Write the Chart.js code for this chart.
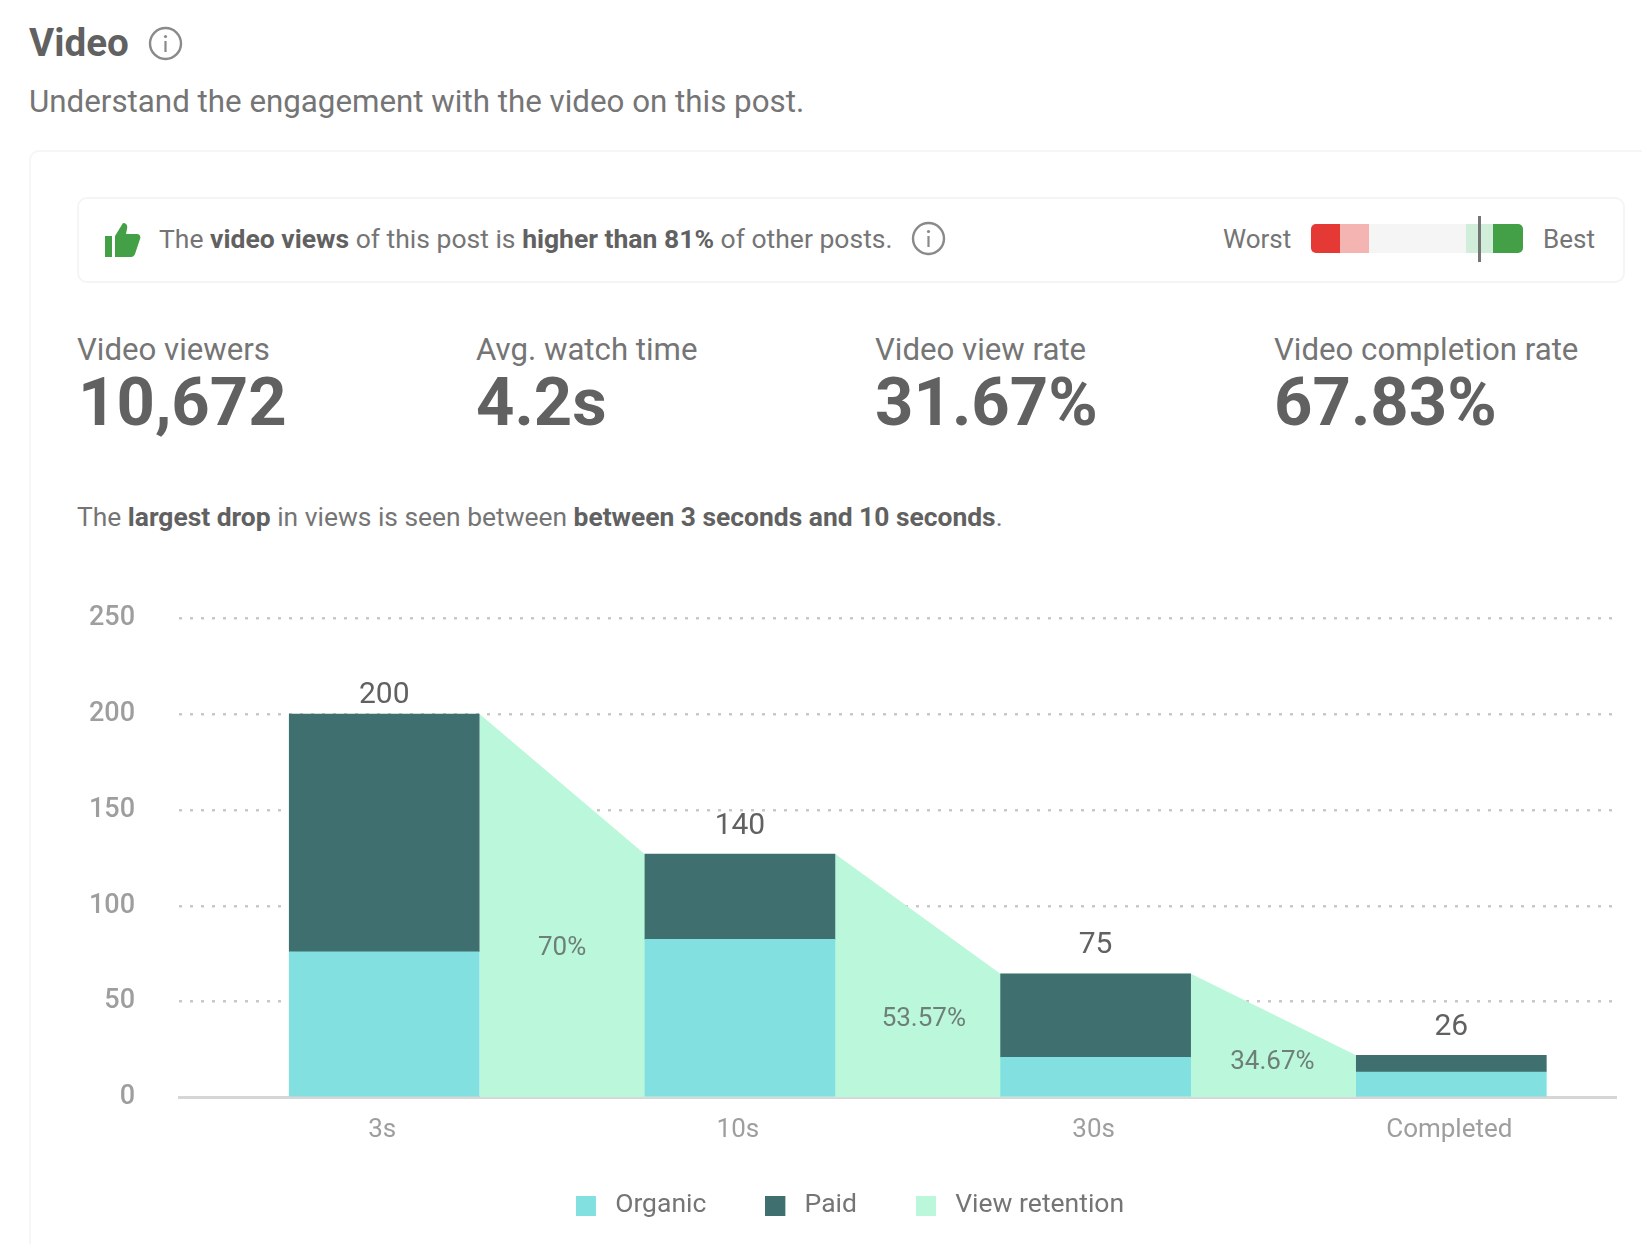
<!DOCTYPE html>
<html>
<head>
<meta charset="utf-8">
<title>Video</title>
<script src="https://cdn.jsdelivr.net/npm/chart.js@4"></script>
<style>
  html, body { margin: 0; padding: 0; width: 1642px; height: 1244px; overflow: hidden; background: #fff; }
  body { font-family: Roboto, sans-serif; color: #757575; position: relative; }
  .abs { position: absolute; white-space: nowrap; }
  b { font-weight: 700; color: #616161; }
  .card { left: 29px; top: 150px; width: 1700px; height: 1200px; border: 2px solid #f6f6f6; border-radius: 10px; }
  .box { left: 77px; top: 197px; width: 1544px; height: 82px; border: 2px solid #f5f5f5; border-radius: 10px; }
  .label { font-size: 31.2px; line-height: 36px; top: 332px; }
  .value { font-size: 67px; line-height: 76px; top: 364px; font-weight: 700; color: #616161; }
  .seg { top: 224px; height: 29px; }
  #chartWrap { left: 0; top: 558px; width: 1642px; height: 695px; }
</style>
</head>
<body>
<div class="abs" style="left:29px;top:20px;font-size:38.6px;line-height:46px;font-weight:700;color:#616161">Video</div>
<svg class="abs" style="left:148px;top:26px" width="35" height="35" viewBox="0 0 35 35"><circle cx="17.5" cy="17.5" r="15.5" fill="none" stroke="#8a8a8a" stroke-width="2.4"/><circle cx="17.5" cy="10.5" r="1.6" fill="#8a8a8a"/><rect x="16.4" y="15" width="2.2" height="11" fill="#8a8a8a"/></svg>
<div class="abs" style="left:29px;top:84px;font-size:31.3px;line-height:36px">Understand the engagement with the video on this post.</div>

<div class="abs card"></div>
<div class="abs box"></div>

<svg class="abs" style="left:104px;top:222px" width="37" height="36" viewBox="0 0 37 36"><rect x="1" y="14" width="7" height="21" fill="#43a047"/><path d="M11 14 L19 1 C22 1 24 3 23 7 L22 12 L33 12 C36 12 37 15 36 17 L31 32 C30 34 29 35 27 35 L11 35 Z" fill="#43a047"/></svg>
<div class="abs" style="left:159px;top:222px;font-size:26.5px;line-height:34px">The <b>video views</b> of this post is <b>higher than 81%</b> of other posts.</div>
<svg class="abs" style="left:911px;top:221px" width="35" height="35" viewBox="0 0 35 35"><circle cx="17.5" cy="17.5" r="15.5" fill="none" stroke="#8a8a8a" stroke-width="2.4"/><circle cx="17.5" cy="10.5" r="1.6" fill="#8a8a8a"/><rect x="16.4" y="15" width="2.2" height="11" fill="#8a8a8a"/></svg>

<div class="abs" style="left:1223px;top:222px;font-size:26px;line-height:34px">Worst</div>
<div class="abs seg" style="left:1311px;width:29px;background:#e53935;border-radius:5px 0 0 5px"></div>
<div class="abs seg" style="left:1340px;width:29px;background:#f4b4b2"></div>
<div class="abs seg" style="left:1369px;width:97px;background:#f5f5f5"></div>
<div class="abs seg" style="left:1466px;width:27px;background:#d0eeda"></div>
<div class="abs seg" style="left:1493px;width:30px;background:#43a047;border-radius:0 5px 5px 0"></div>
<div class="abs" style="left:1478px;top:216px;width:3px;height:46px;background:#757575"></div>
<div class="abs" style="left:1543px;top:222px;font-size:26px;line-height:34px">Best</div>

<div class="abs label" style="left:77px">Video viewers</div>
<div class="abs value" style="left:78px">10,672</div>
<div class="abs label" style="left:476px">Avg. watch time</div>
<div class="abs value" style="left:476px">4.2s</div>
<div class="abs label" style="left:875px">Video view rate</div>
<div class="abs value" style="left:875px">31.67%</div>
<div class="abs label" style="left:1274px">Video completion rate</div>
<div class="abs value" style="left:1274px">67.83%</div>

<div class="abs" style="left:77px;top:500px;font-size:26.4px;line-height:34px">The <b>largest drop</b> in views is seen between <b>between 3 seconds and 10 seconds</b>.</div>

<div class="abs" id="chartWrap"><canvas id="chartVideo"></canvas></div>

<script>
// Values
const categories = ['3s', '10s', '30s', 'Completed'];
const organicValues = [76, 82.5, 21, 13.3];
const paidValues = [124, 44.5, 43.5, 8.7];
const totalLabels = ['200', '140', '75', '26'];
const retentionLabels = ['70%', '53.57%', '34.67%'];
const retentionLabelX = [0.5, 0.517, 0.497];
const retentionLabelY = [77.5, 40.6, 18.2];
const yTicks = [0, 50, 100, 150, 200, 250];

const BAR_HALF = 0.268; // half a bar, in category units

// Retention band runs from each bar's right edge to the next bar's left edge
const retentionPoints = [];
categories.forEach((c, i) => {
  const top = organicValues[i] + paidValues[i];
  if (i > 0) retentionPoints.push({ x: i - BAR_HALF, y: top });
  if (i < categories.length - 1) retentionPoints.push({ x: i + BAR_HALF, y: top });
});

// Legend swatch: 20px square with some clear room on its right
function swatch(color) {
  const c = document.createElement('canvas');
  c.width = 26;
  c.height = 20;
  const g = c.getContext('2d');
  g.fillStyle = color;
  g.fillRect(0, 0, 20, 20);
  return c;
}

// Totals above the bars, percentages inside the retention band
const barTexts = {
  id: 'barTexts',
  afterLayout(chart) {
    chart.legend.top -= 24; // x axis needs room for its labels, legend sits closer
  },
  afterDatasetsDraw(chart) {
    const { ctx, scales: { x, y } } = chart;
    ctx.save();
    ctx.textAlign = 'center';
    ctx.textBaseline = 'middle';
    ctx.font = '30px Roboto';
    ctx.fillStyle = '#616161';
    totalLabels.forEach((label, i) => {
      const top = organicValues[i] + paidValues[i];
      ctx.fillText(label, x.getPixelForValue(i), y.getPixelForValue(top) - (i === 0 ? 19 : 28));
    });
    ctx.font = '26px Roboto';
    ctx.fillStyle = '#6d7f78';
    retentionLabels.forEach((label, i) => {
      ctx.fillText(label, x.getPixelForValue(i + retentionLabelX[i]), y.getPixelForValue(retentionLabelY[i]));
    });
    ctx.restore();
  },
};

new Chart(document.getElementById('chartVideo'), {
  type: 'bar',
  data: {
    datasets: [
      {
        label: 'Organic',
        data: organicValues.map((v, i) => ({ x: i, y: v })),
        backgroundColor: '#82e0e1',
        barThickness: 190,
        order: 1,
      },
      {
        label: 'Paid',
        data: paidValues.map((v, i) => ({ x: i, y: v })),
        backgroundColor: '#3f6f6f',
        barThickness: 190,
        order: 1,
      },
      {
        type: 'line',
        label: 'View retention',
        data: retentionPoints,
        backgroundColor: '#bbf7db',
        borderWidth: 0,
        pointRadius: 0,
        tension: 0,
        fill: 'origin',
        order: 2,
      },
    ],
  },
  options: {
    responsive: true,
    maintainAspectRatio: false,
    animation: false,
    layout: { padding: { left: 84, right: 26, top: 0, bottom: 0 } },
    plugins: {
      tooltip: { enabled: false },
      legend: {
        position: 'bottom',
        onClick: null,
        labels: {
          font: { family: 'Roboto', size: 26.5 },
          color: '#757575',
          usePointStyle: true,
          pointStyleWidth: 26,
          padding: 59,
          generateLabels: (chart) => Chart.defaults.plugins.legend.labels.generateLabels(chart)
            .map((item) => ({ ...item, pointStyle: swatch(item.fillStyle) })),
        },
      },
    },
    scales: {
      x: {
        type: 'linear',
        offset: false,
        stacked: true,
        min: -0.577,
        max: 3.463,
        grid: { display: false, drawTicks: false, offset: false },
        border: { display: true, color: '#d6d6d6', width: 3 },
        afterBuildTicks: (s) => { s.ticks = categories.map((c, i) => ({ value: i })); },
        afterFit: (s) => { s.height = 60; },
        ticks: {
          callback: (v) => categories[v],
          font: { family: 'Roboto', size: 26 },
          color: '#9e9e9e',
          padding: 17,
          labelOffset: -2,
          maxRotation: 0,
          autoSkip: false,
        },
      },
      y: {
        stacked: true,
        min: yTicks[0],
        max: yTicks[yTicks.length - 1],
        afterFit: (s) => { s.width = 95; },
        grid: { color: '#c8c8c8', lineWidth: 2.5, drawTicks: false },
        border: { display: false, dash: [3, 8] },
        ticks: {
          stepSize: 50,
          font: { family: 'Roboto', size: 27, weight: '500' },
          color: '#9e9e9e',
          padding: 44,
        },
      },
    },
  },
  plugins: [barTexts],
});
</script>
</body>
</html>
